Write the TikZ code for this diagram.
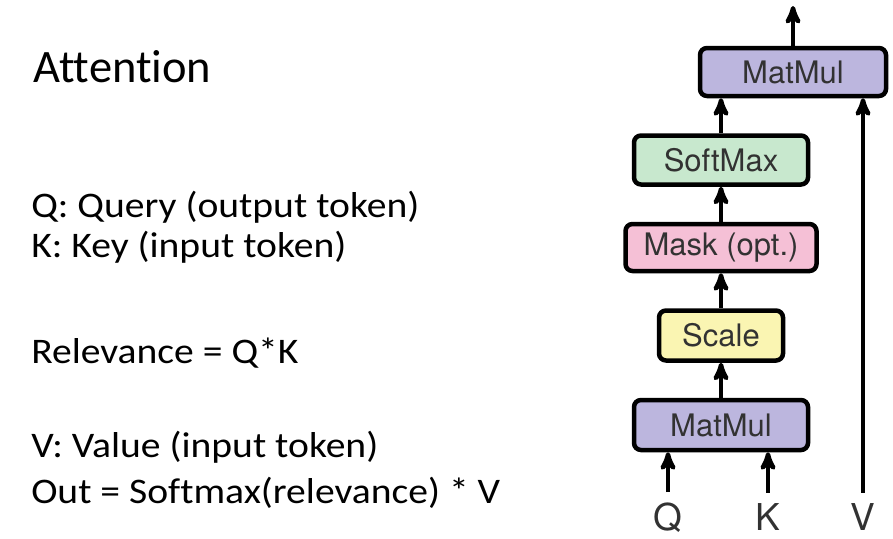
\documentclass[tikz,border=0pt]{standalone}
\usepackage{fontspec}
\setmainfont{Carlito}[Ligatures=NoCommon]
\newfontfamily\bodyfont{Carlito}[FakeStretch=1.1, Ligatures=NoCommon]
\newfontfamily\boxfont{TeX Gyre Heros}
\usetikzlibrary{arrows, positioning}
\definecolor{colorMatMul}{RGB}{188,182,222}
\definecolor{colorSoftMax}{RGB}{200,232,206}
\definecolor{colorMask}{RGB}{245,192,214}
\definecolor{colorScale}{RGB}{250,245,178}
\definecolor{colorBoxText}{RGB}{50,50,50}
\tikzset{op/.style={draw=black, line width=4.5pt, rounded corners=7pt, minimum height=50pt, inner sep=0pt, font=\boxfont\fontsize{31}{31}\selectfont, text=colorBoxText},
  inlabel/.style={anchor=base, inner sep=0pt, font=\boxfont\fontsize{37}{37}\selectfont, text=colorBoxText},
  txtline/.style={anchor=base west, inner sep=0pt, font=\bodyfont\fontsize{36}{36}\selectfont}}

\begin{document}
\begin{tikzpicture}[x=1pt, y=1pt, >=stealth', line width=4.5pt, node distance=35pt]
\useasboundingbox (0,0) rectangle (893,-538);
% text on the left
\node[anchor=base west, inner sep=0pt, font=\fontsize{46.5}{46.5}\selectfont] (title) at (31,-82) {Attention};
\node[txtline] (lq) at (29,-217) {Q: Query (output token)};
\node[txtline] (lk) at (29,-257) {K: Key (input token)};
\node[txtline] (lrel) at (29,-363) {Relevance = Q*K};
\node[txtline] (lv) at (29,-457) {V: Value (input token)};
\node[txtline] (lout) at (29,-503) {Out = Softmax(relevance) * V};
% the blocks
\node[op, fill=colorMatMul, minimum width=174pt] (matmul1) at (721,-425) {MatMul};
\node[op, fill=colorScale, minimum width=124pt] (scale) [above=of matmul1] {Scale};
\node[op, fill=colorMask, minimum width=191pt, minimum height=47pt] (mask) [above=of scale] {Mask (opt.)};
\node[op, fill=colorSoftMax, minimum width=174pt, minimum height=49pt] (softmax) [above=of mask] {SoftMax};
\node[op, fill=colorMatMul, minimum width=186pt, minimum height=48pt] (matmul2) [above=of softmax, xshift=72pt] {MatMul};
% inputs
\node[inlabel] (q) at (668,-530) {Q};
\node[inlabel] (k) at (768,-530) {K};
\node[inlabel] (v) at (863,-530) {V};
\coordinate (out) at (793,-6);
\draw[->, shorten <=8pt] (q.north) -- (q.north |- matmul1.south);
\draw[->, shorten <=8pt] (k.north) -- (k.north |- matmul1.south);
\draw[->] (matmul1) -- (scale);
\draw[->] (scale) -- (mask);
\draw[->] (mask) -- (softmax);
\draw[->] (softmax.north) -- (softmax.north |- matmul2.south);
\draw[->, shorten <=8pt] (v.north) -- (v.north |- matmul2.south);
\draw[->] (matmul2) -- (out);
\end{tikzpicture}
\end{document}
